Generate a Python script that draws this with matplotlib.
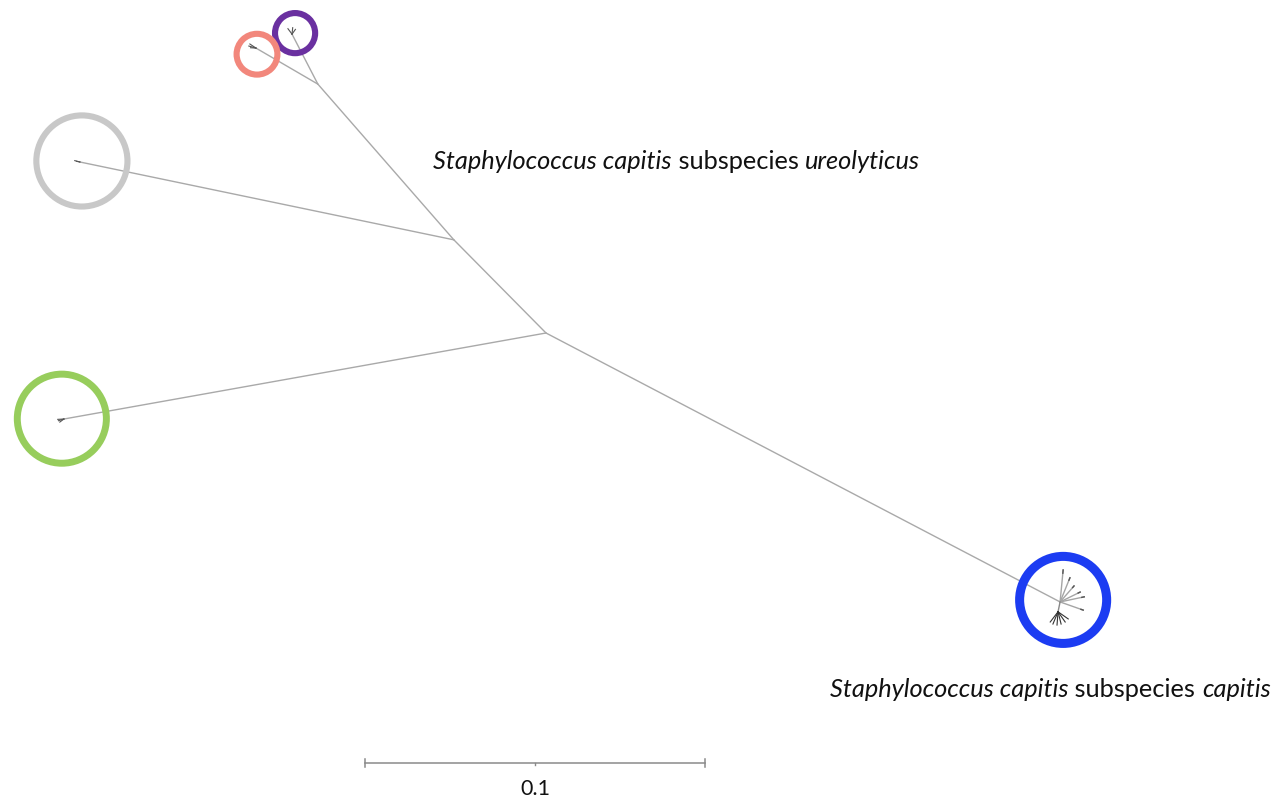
import matplotlib
matplotlib.use('Agg')
import matplotlib.pyplot as plt
from matplotlib.patches import Circle

# node positions of the unrooted tree, in substitutions per site (root node at 0, 0)
node_names = ['root', 'n_ureo', 'n_top', 'purple', 'salmon', 'grey', 'green', 'blue']
node_x = [0.0, -0.0271, -0.0671, -0.0747, -0.0853, -0.1371, -0.1418, 0.1512]
node_y = [0.0, 0.0274, 0.0732, 0.0879, 0.0838, 0.0503, -0.0253, -0.0791]
edges = [('root', 'n_ureo'), ('n_ureo', 'n_top'), ('n_top', 'purple'),
         ('n_top', 'salmon'), ('n_ureo', 'grey'), ('root', 'green'), ('root', 'blue')]

# clade circles: centre node, radius, ring colour
clade_nodes = ['purple', 'salmon', 'grey', 'green', 'blue']
clade_dx = [0.0009, 0.0003, 0.0006, -0.0006, 0.0009]
clade_dy = [0.0003, -0.0018, 0.0003, 0.0001, 0.0006]
clade_radius = [0.0059, 0.0060, 0.0134, 0.0131, 0.0128]
clade_width = [4.4, 4.4, 4.4, 5.0, 6.5]
clade_colour = ['#6a30a0', '#f2877c', '#c8c8c8', '#97cd5c', '#1c3cf2']

# short terminal branches inside each clade (offsets from the clade node)
tips = {
    'purple': ([-0.0012, 0.0002, 0.0010], [0.0016, 0.0019, 0.0014]),
    'salmon': ([-0.0018, -0.0021, -0.0016], [0.0012, 0.0006, 0.0001]),
    'grey': ([-0.0015, -0.0010], [0.0004, 0.0002]),
    'green': ([-0.0018, -0.0016, -0.0012], [-0.0001, -0.0005, -0.0009]),
}
blue_long_x = [0.0068, 0.0009, 0.0029, 0.0041, 0.0059, 0.0071]
blue_long_y = [-0.0024, 0.0094, 0.0071, 0.0047, 0.0029, 0.0015]
blue_sub = (-0.0006, -0.0029)
blue_fan_x = [-0.0029, -0.0021, -0.0009, 0.0003, 0.0015, 0.0024]
blue_fan_y = [-0.0059, -0.0065, -0.0068, -0.0065, -0.0059, -0.0050]

scale_start = -0.0532
scale_y = -0.1265
scale_len = 0.1

branch_col = '#a9a9a9'
label_font = 'Lato'
label_size = 18.3

fig = plt.figure(figsize=(12.74, 8), dpi=100)
ax = fig.add_axes([0, 0, 1, 1])
px = 1 / 3400.0
ax.set_xlim(-546 * px, 728 * px)
ax.set_ylim(-467 * px, 333 * px)
ax.axis('off')

pos = {n: (x, y) for n, x, y in zip(node_names, node_x, node_y)}
for a, b in edges:
    ax.plot([pos[a][0], pos[b][0]], [pos[a][1], pos[b][1]], color=branch_col, lw=1.0,
            solid_capstyle='round')

for name, (dxs, dys) in tips.items():
    x0, y0 = pos[name]
    for dx, dy in zip(dxs, dys):
        ax.plot([x0, x0 + dx], [y0, y0 + dy], color='#555555', lw=0.8)

# blue clade: radiating subtree
bx, by = pos['blue']
for dx, dy in zip(blue_long_x, blue_long_y):
    ax.plot([bx, bx + dx], [by, by + dy], color='#a5a5a5', lw=1.0)
    ax.plot([bx + dx * 0.9, bx + dx], [by + dy * 0.9, by + dy], color='#555555', lw=1.0)
sx, sy = bx + blue_sub[0], by + blue_sub[1]
ax.plot([bx, sx], [by, sy], color='#888888', lw=1.0)
for dx, dy in zip(blue_fan_x, blue_fan_y):
    ax.plot([sx, bx + dx], [sy, by + dy], color='#333333', lw=0.8)

for n, dx, dy, r, w, c in zip(clade_nodes, clade_dx, clade_dy, clade_radius,
                              clade_width, clade_colour):
    x0, y0 = pos[n]
    ax.add_patch(Circle((x0 + dx, y0 + dy), r, fill=False, edgecolor=c, lw=w, zorder=3))

# scale bar
ax.plot([scale_start, scale_start + scale_len], [scale_y, scale_y], color='#8a8a8a', lw=1.1)
for xx in (scale_start, scale_start + scale_len):
    ax.plot([xx, xx], [scale_y - 0.0012, scale_y + 0.0012], color='#8a8a8a', lw=1.1)
mid = scale_start + scale_len / 2
ax.plot([mid, mid], [scale_y, scale_y - 0.0006], color='#8a8a8a', lw=1.0)
ax.text(mid, scale_y - 0.0077, '0.1', ha='center', va='center', fontsize=15.5,
        family=label_font, color='#111111')


def species_label(x, y, parts):
    prev = ax.text(x, y, parts[0][0], style=parts[0][1], fontsize=label_size,
                   family=label_font, va='baseline', ha='left', color='#111111')
    for txt, st in parts[1:]:
        prev = ax.annotate(txt, xy=(1, 0), xycoords=prev, va='bottom', ha='left',
                           style=st, fontsize=label_size, family=label_font,
                           color='#111111')


species_label(-0.0332, 0.0482, [('Staphylococcus capitis', 'italic'),
                                ('\u00a0subspecies\u00a0', 'normal'),
                                ('ureolyticus', 'italic')])
species_label(0.0835, -0.1071, [('Staphylococcus capitis', 'italic'),
                                ('\u00a0subspecies\u00a0', 'normal'),
                                ('capitis', 'italic')])

plt.savefig('out.png', dpi=100)
